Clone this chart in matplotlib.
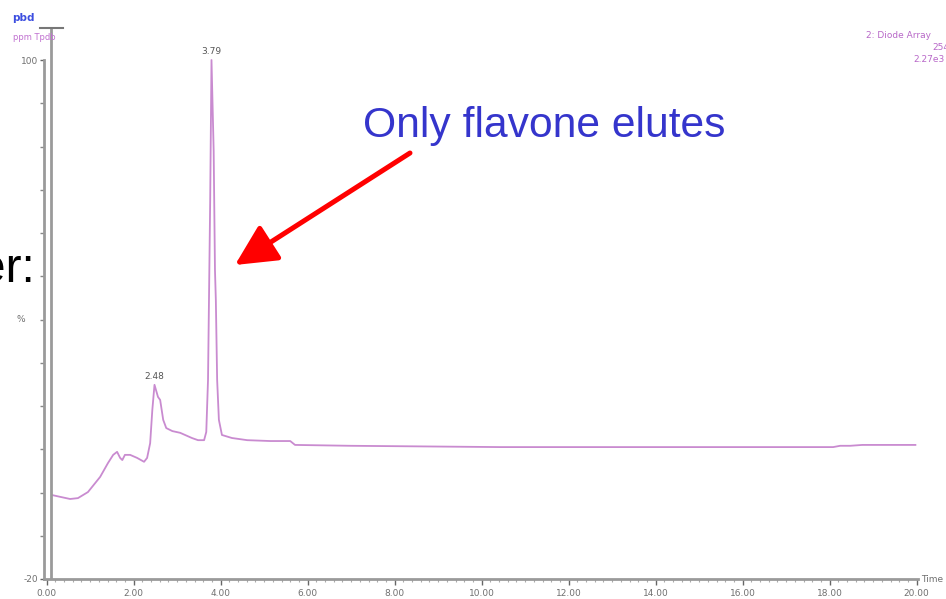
import matplotlib
matplotlib.use("Agg")
import matplotlib.pyplot as plt
from matplotlib.lines import Line2D
from matplotlib.ticker import MultipleLocator, FixedLocator, FixedFormatter

# ---- data (retention time in min, response in %) ----
time_min = [0.13, 0.31, 0.54, 0.72, 0.95, 1.23, 1.41, 1.53, 1.62, 1.69, 1.74, 1.80,
            1.92, 2.08, 2.24, 2.31, 2.38, 2.43, 2.48, 2.56, 2.61, 2.68, 2.75, 2.89,
            3.07, 3.34, 3.48, 3.62, 3.67, 3.71, 3.76, 3.79, 3.84, 3.87, 3.89, 3.92,
            3.96, 4.03, 4.26, 4.61, 5.14, 5.60, 5.71, 6.98, 10.43, 15.02, 18.08,
            18.24, 18.47, 18.75, 19.97]
response = [-0.6, -1.0, -1.5, -1.3, 0.1, 3.6, 6.8, 8.7, 9.4, 8.0, 7.5, 8.7,
            8.7, 8.0, 7.1, 8.0, 11.4, 19.1, 24.9, 22.1, 21.4, 16.8, 14.9, 14.2,
            13.8, 12.6, 12.1, 12.1, 14.0, 26.0, 67.6, 100.0, 79.0, 51.4, 44.5, 26.0,
            16.8, 13.3, 12.6, 12.1, 11.9, 11.9, 11.0, 10.8, 10.5, 10.5, 10.5,
            10.8, 10.8, 11.0, 11.0]
peak_times = [2.48, 3.79]
peak_heights = [24.9, 100.0]
peak_labels = ["2.48", "3.79"]
x_ticks = [0, 2, 4, 6, 8, 10, 12, 14, 16, 18, 20]
x_tick_labels = ["0.00", "2.00", "4.00", "6.00", "8.00", "10.00",
                 "12.00", "14.00", "16.00", "18.00", "20.00"]
y_ticks = [-20, 100]
y_tick_labels = ["-20", "100"]

W, H = 946, 599
fig = plt.figure(figsize=(W / 100, H / 100), dpi=100)
fig.patch.set_facecolor("white")

# axes in pixel geometry
ax_left, ax_right, ax_top, ax_bottom = 44, 918, 28, 579
ax = fig.add_axes([ax_left / W, (H - ax_bottom) / H,
                   (ax_right - ax_left) / W, (ax_bottom - ax_top) / H])
ax.set_xlim(-0.06, 20.03)
ax.set_ylim(-20, 107.4)

line_col = "#c98bd0"
grey = "#9a9a9a"
lab_col = "#707070"

ax.plot(time_min, response, color=line_col, lw=1.3, solid_joinstyle="round")

for t, h, s in zip(peak_times, peak_heights, peak_labels):
    ax.annotate(s, (t, h), xytext=(0, 3), textcoords="offset points",
                ha="center", va="bottom", fontsize=6.5, color="#555555")

for side in ["top", "right"]:
    ax.spines[side].set_visible(False)
ax.spines["left"].set_color(grey)
ax.spines["left"].set_linewidth(2)
ax.spines["left"].set_bounds(-20, 100)
ax.spines["bottom"].set_color(grey)
ax.spines["bottom"].set_linewidth(2)

# inner vertical line of the double axis
ax.axvline(0.10, color=grey, lw=2, ymin=0, ymax=1)

ax.xaxis.set_major_locator(FixedLocator(x_ticks))
ax.xaxis.set_major_formatter(FixedFormatter(x_tick_labels))
ax.xaxis.set_minor_locator(MultipleLocator(0.2))
ax.yaxis.set_major_locator(FixedLocator(y_ticks))
ax.yaxis.set_major_formatter(FixedFormatter(y_tick_labels))
ax.yaxis.set_minor_locator(MultipleLocator(10))
ax.tick_params(axis="x", which="major", direction="out", length=4, width=1,
               color="#666666", labelsize=6.5, labelcolor=lab_col, pad=3)
ax.tick_params(axis="x", which="minor", direction="out", length=2.5, width=0.8,
               color="#aaaaaa")
ax.tick_params(axis="y", which="major", direction="out", length=3, width=1,
               color="#666666", labelsize=6.5, labelcolor=lab_col, pad=1)
ax.tick_params(axis="y", which="minor", direction="out", length=3, width=1,
               color="#888888")

ax.text(-0.5, 40, "%", ha="right", va="center", fontsize=6.5, color=lab_col)
fig.text(921 / W, (H - 580) / H, "Time", ha="left", va="center",
         fontsize=6.5, color=lab_col)

# header texts
fig.text(12 / W, (H - 18) / H, "pbd", ha="left", va="center", fontsize=7.5,
         fontweight="bold", color="#3d4fe0")
fig.text(13 / W, (H - 37) / H, "ppm Tpdb", ha="left", va="center", fontsize=6,
         color="#c070d0")
fig.add_artist(Line2D([40 / W, 63 / W], [(H - 28) / H, (H - 28) / H],
                      color="#777777", lw=1.5))
fig.text(866 / W, (H - 36) / H, "2: Diode Array", ha="left", va="center",
         fontsize=6.5, color="#b868c8")
fig.text(932 / W, (H - 48) / H, "254", ha="left", va="center",
         fontsize=6.5, color="#b868c8")
fig.text(913 / W, (H - 60) / H, "2.27e3", ha="left", va="center",
         fontsize=6.5, color="#b868c8")

# slide overlay texts
fig.text(35 / W, (H - 282) / H, "er:", ha="right", va="baseline",
         fontsize=34.5, color="black", family="Liberation Sans")
fig.text(363 / W, (H - 137) / H, "Only flavone elutes", ha="left",
         va="baseline", fontsize=30.7, color="#3535cc", family="Liberation Sans")

ax.annotate("", xy=(235, H - 265), xycoords="figure pixels",
            xytext=(410, H - 153), textcoords="figure pixels",
            arrowprops=dict(arrowstyle="-|>,head_length=1.8,head_width=0.9",
                            color="#ff0000", lw=3.6, mutation_scale=14,
                            shrinkA=0, shrinkB=0))

fig.savefig("out.png", dpi=100)
